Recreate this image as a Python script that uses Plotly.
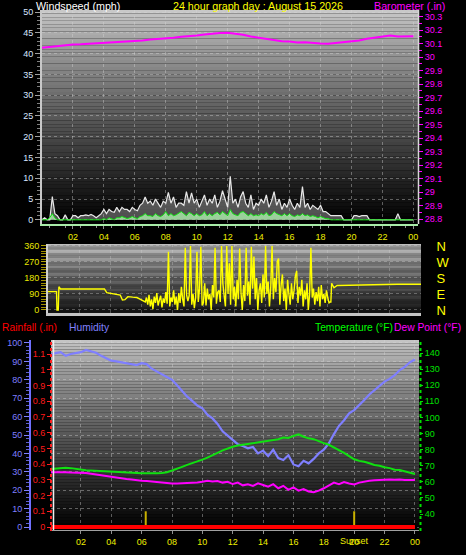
import plotly.graph_objects as go

W, H = 466, 555

# ---------------- DATA ----------------
hour_ticks = [2, 4, 6, 8, 10, 12, 14, 16, 18, 20, 22, 24]
hour_labels = ["02", "04", "06", "08", "10", "12", "14", "16", "18", "20", "22", "00"]

# wind (10-minute samples, 00:00 .. 24:00)
wind_hours = [i / 6 for i in range(145)]
wind_gust = [
    0, 0.5, 0, 0, 5.6, 1.5,
    1, 0, 0, 1.2, 0, 0,
    1, 1, 0.5, 1, 1, 1.2,
    1, 1.3, 1, 0.5, 1, 1.5,
    2.5, 1.5, 2.5, 2, 1.8, 3,
    2, 3, 2.5, 2.5, 2, 3,
    2.5, 2.2, 3.5, 4, 5.5, 4,
    4.5, 3.5, 5, 4, 3, 4.5,
    4, 6.6, 4, 5.5, 3, 4,
    4, 3.5, 6.8, 4, 6.5, 4,
    5, 3, 4.5, 6, 3.5, 5,
    4, 6, 3, 4.5, 7, 5,
    3, 10.5, 4, 5, 3, 5.5,
    6.8, 4, 3, 6, 2.5, 4,
    3.5, 5, 4, 6, 3, 4.5,
    6.8, 3.5, 5, 2.5, 4, 3,
    5, 3.5, 2.5, 4, 3, 8,
    3, 4, 2.5, 3.5, 3, 2.5,
    3.5, 2, 2, 1.5, 1, 1,
    1, 1, 1, 0, 0, 0,
    0, 1, 1, 0.8, 1, 1,
    1, 0, 0, 0, 0, 0,
    0, 0, 0, 0, 0, 0,
    1.5, 0, 0, 0, 0, 0,
    0,
]
wind_avg = [
    0, 0, 0, 0.5, 1.5, 0.5,
    0, 0, 0, 0, 0, 0,
    0, 0, 0, 0, 0, 0,
    0, 0, 0, 0, 0, 0,
    0.3, 0, 0.5, 0.3, 0, 0.5,
    0.5, 0.8, 0.5, 0.3, 0.5, 0.8,
    0.5, 0.3, 0.8, 1, 1.5, 1,
    1, 0.8, 1.5, 1, 0.8, 1.2,
    2, 1, 1.5, 1, 1.2, 1.5,
    2, 1.5, 1, 1.8, 1.5, 1,
    1.5, 1, 1.2, 2, 1, 1.5,
    1, 1.5, 1.8, 1.2, 2, 1.5,
    1, 2.5, 1.5, 1.2, 1, 1.8,
    2, 1.5, 1, 1.5, 1, 1.2,
    1, 1.5, 1.2, 1.8, 1, 1.2,
    2, 1.5, 1.2, 1, 1.5, 1,
    1.5, 1, 0.8, 1.2, 1, 1.5,
    1, 1.2, 0.8, 1, 0.8, 0.5,
    0.8, 0.5, 0.3, 0.3, 0, 0,
    0, 0, 0, 0, 0, 0,
    0, 0, 0, 0, 0, 0,
    0, 0, 0, 0, 0, 0,
    0, 0, 0, 0, 0, 0,
    0, 0, 0, 0, 0, 0,
    0,
]

# barometer (30-minute samples)
baro_hours = [i / 2 for i in range(49)]
baro_in = [
    30.070, 30.076, 30.084, 30.091, 30.094, 30.096, 30.099, 30.101,
    30.104, 30.109, 30.111, 30.114, 30.121, 30.124, 30.131, 30.134,
    30.141, 30.144, 30.151, 30.154, 30.161, 30.169, 30.176, 30.179,
    30.181, 30.174, 30.166, 30.154, 30.146, 30.134, 30.126, 30.119,
    30.116, 30.109, 30.111, 30.104, 30.101, 30.099, 30.106, 30.109,
    30.116, 30.124, 30.136, 30.144, 30.156, 30.161, 30.154, 30.156,
    30.155,
]
baro_ticks = [28.8, 28.9, 29.0, 29.1, 29.2, 29.3, 29.4, 29.5, 29.6, 29.7,
              29.8, 29.9, 30.0, 30.1, 30.2, 30.3]
baro_labels = ["28.8", "28.9", "29", "29.1", "29.2", "29.3", "29.4", "29.5",
               "29.6", "29.7", "29.8", "29.9", "30", "30.1", "30.2", "30.3"]

# wind direction
dir_early_hours = [0.0, 0.55, 0.58, 0.66, 0.7, 0.8, 3.63, 3.78, 4.65, 4.79,
                   4.95, 5.14, 5.45, 5.72, 6.04, 6.26]
dir_early_deg = [103, 103, 0, 0, 131, 118, 118, 97, 84, 56,
                 58, 75, 72, 70, 56, 45]
dir_mid_start = 6 + 20 / 60          # 5-minute samples from 06:20 to 18:10
dir_mid_deg = [
    70, 30, 85, 20, 60, 5, 75, 40,
    95, 25, 55, 80, 15, 65, 40, 100, 35, 328, 20, 70,
    45, 110, 30, 75, 0, 95, 40, 130, 60, 20, 350, 85,
    50, 80, 360, 30, 90, 10, 70, 328, 45, 120, 355, 25,
    40, 150, 25, 120, 60, 90, 0, 140, 70, 350, 35, 100,
    110, 45, 360, 150, 80, 20, 360, 90, 263, 30, 360, 60,
    130, 20, 170, 60, 345, 100, 0, 140, 50, 350, 80, 160,
    30, 355, 120, 300, 60, 180, 0, 110, 150, 40, 200, 70,
    360, 90, 160, 20, 130, 360, 60, 180, 100, 270, 290, 30,
    140, 200, 50, 120, 0, 170, 90, 30, 150, 60, 110, 190,
    220, 40, 130, 80, 170, 20, 110, 60, 150, 0, 90, 350,
    70, 120, 30, 100, 50, 130, 20, 140, 60, 90, 40, 110,
    70, 40, 45,
]
dir_late_hours = [18.2, 18.25, 18.4, 18.6, 19.5, 20.5, 21.5, 22.5, 24.0]
dir_late_deg = [45, 150, 125, 138, 140, 141, 143, 145, 145]
compass_ticks = [360, 270, 180, 90, 0]
compass_labels = ["N", "W", "S", "E", "N"]

# temperature / humidity / dew point (20-minute samples)
met_hours = [i / 3 for i in range(73)]
humidity = [
    93.5, 94.5, 95, 93, 94, 94.5, 95, 96.2, 95.5, 94.7, 93, 91.5,
    90.4, 90, 89.5, 89, 88.5, 88, 89, 88.5, 86, 84.5, 83, 81.5,
    80, 77, 74, 70.8, 68.5, 66, 64.5, 61, 59, 56, 52, 49.5,
    47.3, 45, 44, 42.8, 43.5, 40, 41.5, 38.5, 42, 37.5, 36.4, 39,
    34, 33, 36, 34.6, 37, 40, 42, 45.5, 50.5, 55, 58, 61.8,
    63.5, 66, 69, 72, 74.5, 77, 79, 80.5, 82.5, 85.3, 87, 89.5,
    91,
]
temperature = [
    68, 68.3, 68.6, 68.8, 68.5, 68, 67.5, 67.2, 67, 66.8, 66.6, 66.5,
    66.3, 66.3, 66.2, 66, 65.8, 65.5, 65.3, 65.3, 65.2, 65.3, 65.5, 66,
    67, 68, 69.3, 70.5, 71.5, 72.7, 73.8, 75, 76.3, 78, 79.5, 80.8,
    81.8, 82.5, 83, 83.5, 84, 84.5, 85, 85.5, 86, 86.5, 87.5, 87.2,
    88.5, 89.5, 88, 87, 86.5, 85, 84, 83, 81.5, 79.5, 78, 76,
    74, 73, 72.5, 71.5, 70.5, 70, 69, 68.5, 67.5, 67.3, 66.5, 65.5,
    64.8,
]
dewpoint = [
    65.9, 66, 65.9, 66, 65.8, 65.7, 65.7, 65.5, 65, 64.5, 64.2, 63.5,
    63, 62.5, 62.2, 61.8, 61.5, 61, 60.7, 60.5, 60.2, 59.8, 59.5, 59,
    59, 58.9, 59, 59.2, 59, 59.5, 60, 60.7, 60.2, 60.5, 59.5, 60,
    58.6, 59.5, 57.8, 58.5, 57.5, 59, 58, 57, 58.5, 56, 57.5, 55,
    56.5, 54.5, 55.5, 54, 53.5, 54.5, 56, 58, 59.5, 58.5, 59.8, 59,
    58.4, 59.5, 60.2, 60.7, 61, 61.3, 61.5, 61.5, 61.3, 61.5, 61.2, 61.3,
    61.1,
]
rain_hours = [0, 24]
rain_in = [0, 0]
sun_hours = [6.27, 20.0]          # sunrise, sunset
sun_marker_in = [0.1, 0.1]
rain_ticks = [0, 0.1, 0.2, 0.3, 0.4, 0.5, 0.6, 0.7, 0.8, 0.9, 1.0, 1.1, 1.2]
rain_labels = ["0", "0.1", "0.2", "0.3", "0.4", "0.5", "0.6", "0.7", "0.8",
               "0.9", "1", "1.1", "1.2"]
hum_ticks = [0, 10, 20, 30, 40, 50, 60, 70, 80, 90, 100]
temp_ticks = [40, 50, 60, 70, 80, 90, 100, 110, 120, 130, 140]
wind_ticks = [0, 5, 10, 15, 20, 25, 30, 35, 40, 45, 50]
dir_ticks = [0, 90, 180, 270, 360]

# ---------------- FIGURE ----------------
FONT = "Liberation Sans, Arial, sans-serif"
fig = go.Figure()

dir_mid_hours = [dir_mid_start + i / 12 for i in range(len(dir_mid_deg))]
dir_hours = dir_early_hours + dir_mid_hours + dir_late_hours
dir_deg = dir_early_deg + dir_mid_deg + dir_late_deg

# panel 1
fig.add_trace(go.Scatter(x=wind_hours, y=wind_gust, xaxis="x", yaxis="y", mode="lines",
                         line=dict(color="#e8e8e8", width=1.2), fill="tozeroy",
                         fillcolor="rgba(195,195,195,0.4)"))
fig.add_trace(go.Scatter(x=wind_hours, y=wind_avg, xaxis="x", yaxis="y", mode="lines",
                         line=dict(color="#10e010", width=1), fill="tozeroy",
                         fillcolor="rgba(175,240,175,0.8)"))
fig.add_trace(go.Scatter(x=baro_hours, y=baro_in, xaxis="x", yaxis="y2", mode="lines",
                         line=dict(color="#ff00ff", width=2)))
# panel 2
fig.add_trace(go.Scatter(x=dir_hours, y=dir_deg, xaxis="x2", yaxis="y3", mode="lines",
                         line=dict(color="#ffff00", width=1.4)))
fig.add_trace(go.Scatter(x=[0, 24], y=[None, None], xaxis="x2", yaxis="y4", mode="lines"))
# panel 3
fig.add_trace(go.Scatter(x=met_hours, y=humidity, xaxis="x3", yaxis="y5", mode="lines",
                         line=dict(color="#7f7fff", width=2.2)))
sx, sy = [], []
for h, v in zip(sun_hours, sun_marker_in):
    sx += [h, h, None]
    sy += [0, v, None]
fig.add_trace(go.Scatter(x=sx, y=sy, xaxis="x3", yaxis="y6", mode="lines",
                         line=dict(color="#c8b000", width=2)))
fig.add_trace(go.Scatter(x=rain_hours, y=rain_in, xaxis="x3", yaxis="y6", mode="lines",
                         line=dict(color="#ff0000", width=4)))
fig.add_trace(go.Scatter(x=met_hours, y=temperature, xaxis="x3", yaxis="y7", mode="lines",
                         line=dict(color="#10e010", width=2)))
fig.add_trace(go.Scatter(x=met_hours, y=dewpoint, xaxis="x3", yaxis="y7", mode="lines",
                         line=dict(color="#ff00ff", width=2)))


def px_x(p):
    return p / W


def px_y(p):
    return 1 - p / H


def gradient(xref, yref, top, bottom, gamma=1.0, n=60):
    out = []
    for i in range(n):
        f = (i / (n - 1)) ** gamma
        c = [int(round(top[k] + (bottom[k] - top[k]) * f)) for k in range(3)]
        out.append(dict(type="rect", xref=xref, yref=yref, x0=0, x1=1,
                        y0=1 - (i + 1) / n, y1=1 - i / n,
                        fillcolor="rgb(%d,%d,%d)" % tuple(c), line=dict(width=0),
                        layer="below"))
    return out


shapes = []
shapes += gradient("x domain", "y domain", (200, 200, 200), (0, 0, 0), 0.85)
shapes += gradient("x2 domain", "y3 domain", (190, 190, 190), (20, 20, 20), 1.0)
shapes += gradient("x3 domain", "y5 domain", (196, 196, 196), (0, 0, 0), 0.85)
# axis edge decorations
shapes.append(dict(type="line", xref="paper", yref="paper", x0=px_x(51), x1=px_x(51),
                   y0=px_y(531), y1=px_y(339), line=dict(color="#ff2020", width=2, dash="dot")))
shapes.append(dict(type="line", xref="paper", yref="paper", x0=px_x(53.5), x1=px_x(53.5),
                   y0=px_y(530), y1=px_y(340), line=dict(color="#f0f0f0", width=1.5)))
shapes.append(dict(type="line", xref="paper", yref="paper", x0=px_x(420.5), x1=px_x(420.5),
                   y0=px_y(531), y1=px_y(339), line=dict(color="#00e000", width=2, dash="dot")))
shapes.append(dict(type="line", xref="paper", yref="paper", x0=px_x(418.5), x1=px_x(418.5),
                   y0=px_y(224), y1=px_y(10), line=dict(color="#d8d8d8", width=1.5)))

grid = dict(showgrid=True, gridcolor="rgba(215,215,215,0.4)", griddash="dot", gridwidth=1)

layout = dict(
    width=W, height=H, autosize=False, template="none",
    margin=dict(l=0, r=0, t=0, b=0),
    paper_bgcolor="black", plot_bgcolor="black", showlegend=False,
    font=dict(family=FONT, size=9),
    shapes=shapes,
    # ---- panel 1
    xaxis=dict(domain=[px_x(42), px_x(418)], range=[0, 24.3], anchor="y",
               tickmode="array", tickvals=hour_ticks, ticktext=hour_labels,
               tickfont=dict(color="#eeee00", size=9, family=FONT),
               ticks="outside", ticklen=3, tickcolor="#909090",
               minor=dict(tickvals=[i / 2 for i in range(1, 49, 2)], ticks="outside",
                          ticklen=2, tickcolor="#909090", showgrid=False),
               showline=True, linecolor="#a8eca8", linewidth=2, zeroline=False,
               automargin=False, **grid),
    yaxis=dict(domain=[px_y(224), px_y(10)], range=[-1, 50.5], anchor="x",
               tickmode="array", tickvals=wind_ticks,
               tickfont=dict(color="#d8e6ff", size=9, family=FONT),
               ticks="outside", ticklen=5, tickcolor="#a0a0a0",
               minor=dict(tickvals=[v for v in range(1, 50) if v % 5], ticks="outside",
                          ticklen=3, tickcolor="#808080", showgrid=False),
               showline=True, linecolor="#c8c8c8", linewidth=2, zeroline=False,
               automargin=False, **grid),
    yaxis2=dict(overlaying="y", side="right", anchor="x", range=[28.763, 30.35],
                tickmode="array", tickvals=baro_ticks, ticktext=baro_labels,
                tickfont=dict(color="#ff00ff", size=9, family=FONT),
                ticks="outside", ticklen=4, tickcolor="#ff00ff",
                minor=dict(tickvals=[b + 0.05 for b in baro_ticks[:-1]], ticks="outside",
                           ticklen=3, tickcolor="#ff00ff", showgrid=False),
                showgrid=False, showline=False, zeroline=False, automargin=False),
    # ---- panel 2
    xaxis2=dict(domain=[px_x(48), px_x(421)], range=[0, 24], anchor="y3",
                tickmode="array", tickvals=hour_ticks, showticklabels=False, ticks="",
                showline=True, linecolor="#c4c4c4", linewidth=3, zeroline=False,
                automargin=False, showgrid=True, gridcolor="rgba(215,215,215,0.3)",
                griddash="dot"),
    yaxis3=dict(domain=[px_y(313), px_y(244)], range=[-17, 371], anchor="x2",
                tickmode="array", tickvals=dir_ticks,
                tickfont=dict(color="#e8e800", size=9, family=FONT),
                ticks="outside", ticklen=5, tickcolor="#b0a000",
                minor=dict(tickvals=[v for v in range(0, 361, 15) if v % 90], ticks="outside",
                           ticklen=5, tickcolor="#a09000", showgrid=False),
                showline=True, linecolor="#d0d0d0", linewidth=2, zeroline=False,
                automargin=False, showgrid=True, gridcolor="rgba(215,215,215,0.35)",
                griddash="dot"),
    yaxis4=dict(overlaying="y3", side="right", anchor="x2", range=[-17, 371],
                tickmode="array", tickvals=compass_ticks, ticktext=compass_labels,
                tickfont=dict(color="#ffff00", size=13, family=FONT),
                ticks="outside", ticklen=12, tickcolor="rgba(0,0,0,0)",
                showgrid=False, showline=False, zeroline=False, automargin=False),
    # ---- panel 3
    xaxis3=dict(domain=[px_x(51), px_x(419)], range=[0.03, 24.27], anchor="y5",
                tickmode="array", tickvals=hour_ticks, ticktext=hour_labels,
                tickfont=dict(color="#eeee00", size=9, family=FONT),
                ticks="outside", ticklen=3, tickcolor="#909090",
                showline=True, linecolor="#a0a0a0", linewidth=1, zeroline=False,
                automargin=False, **grid),
    yaxis5=dict(domain=[px_y(530), px_y(340)], range=[-1.6, 101.6], anchor="free",
                position=px_x(30), side="left",
                tickmode="array", tickvals=hum_ticks,
                tickfont=dict(color="#7f7fff", size=9, family=FONT),
                ticks="outside", ticklen=5, tickcolor="#7f7fff",
                minor=dict(tickvals=[v for v in range(2, 100, 2) if v % 10], ticks="outside",
                           ticklen=3, tickcolor="#6060d0", showgrid=False),
                showline=True, linecolor="#7070ff", linewidth=2, zeroline=False,
                automargin=False, **grid),
    yaxis6=dict(overlaying="y5", anchor="free", position=px_x(51), side="left",
                range=[-0.019, 1.189], tickmode="array", tickvals=rain_ticks,
                ticktext=rain_labels,
                tickfont=dict(color="#ff1a1a", size=9, family=FONT),
                ticks="outside", ticklen=4, tickcolor="#ff2020",
                showgrid=False, showline=False, zeroline=False, automargin=False),
    yaxis7=dict(overlaying="y5", anchor="x3", side="right", range=[30.06, 148.1],
                tickmode="array", tickvals=temp_ticks,
                tickfont=dict(color="#00e000", size=9, family=FONT),
                ticks="outside", ticklen=3, tickcolor="#00e000",
                showgrid=False, showline=False, zeroline=False, automargin=False),
)

ann = []


def label(text, x, y, color, size=10.5, anchor="left", xref="paper"):
    ann.append(dict(text=text, x=x, y=y, xref=xref, yref="paper", xanchor=anchor,
                    yanchor="middle", showarrow=False,
                    font=dict(color=color, size=size, family=FONT)))


label("Windspeed (mph)", px_x(34), px_y(5.5), "#ffffff", 10.7)
label("24 hour graph day : August 15 2026", px_x(257.5), px_y(5.5), "#ffff00", 10.7, "center")
label("Barometer (.in)", px_x(372), px_y(5.5), "#ff00ff", 10.7)
label("Rainfall (.in)", px_x(0), px_y(327), "#ff0000", 10.3)
label("Humidity", px_x(67), px_y(327), "#8080ff", 10.3)
label("Temperature (°F)", px_x(313), px_y(327), "#00ff00", 10.3)
label("Dew Point (°F)", px_x(392), px_y(327), "#ff00ff", 10.3)
label("Sunset", sun_hours[1], px_y(541), "#eeee00", 9, "center", "x3")
layout["annotations"] = ann

fig.update_layout(**layout)
fig.write_html(
    "out.html",
    config={"displayModeBar": False, "staticPlot": True},
    post_script="document.body.style.margin='0px';document.body.style.padding='0px';"
                "document.body.style.background='black';",
)
